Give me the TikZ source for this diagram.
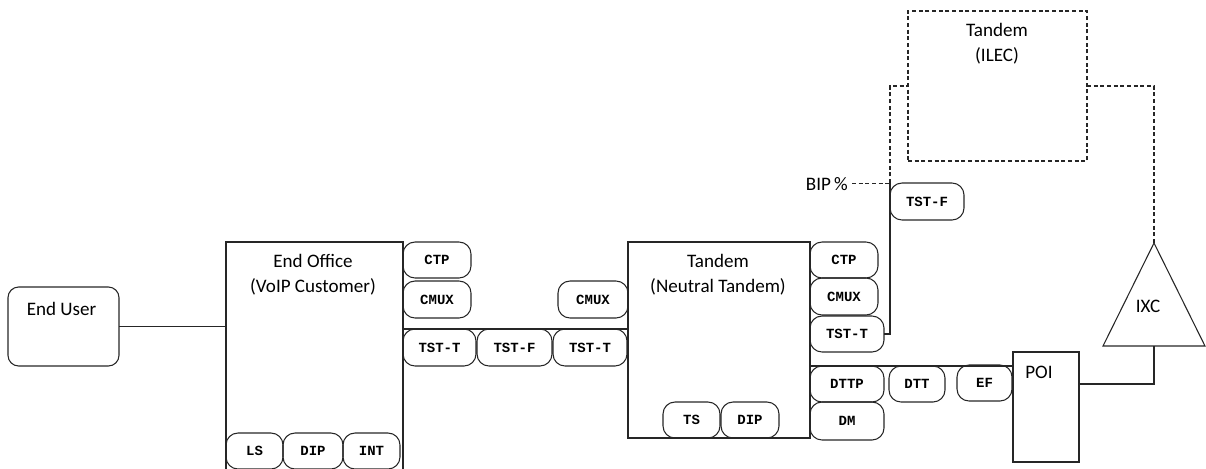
\documentclass[tikz,border=0pt]{standalone}
\usepackage{fontspec}
\setmainfont{Carlito}
\newfontfamily\monofont{Liberation Mono}
\usetikzlibrary{calc}
\tikzset{
  box/.style={draw=black!85, line width=0.8pt, inner sep=0pt, outer sep=0pt},
  pill/.style={box, rounded corners=9pt, font=\monofont\bfseries\fontsize{10.5}{12}\selectfont},
  ttl/.style={align=center, inner sep=0pt, font=\fontsize{14.3}{18.75}\selectfont},
  link/.style={draw=black!85, line width=0.8pt},
  dlink/.style={link, dash pattern=on 3pt off 2pt},
}
\newcommand{\blk}[6]{\node[#6, minimum width={(#4-#2)*0.75pt}, minimum height={(#5-#3)*0.75pt}] (#1) at ({(#2+#4)/2},{(#3+#5)/2}) {};}
\newcommand{\pill}[6]{\node[pill, minimum width={(#4-#2)*0.75pt}, minimum height={(#5-#3)*0.75pt}] (#1) at ({(#2+#4)/2},{(#3+#5)/2}) {#6};}

\begin{document}
\begin{tikzpicture}[x=0.75pt,y=-0.75pt]
    \useasboundingbox (0,0) rectangle (1206,468);
    \clip (0,0) rectangle (1206,468);

    % offices
    \blk{eu}{8}{287}{119}{366}{box, rounded corners=8pt}
    \node[ttl, anchor=base] (eutxt) at (61.5,315) {End User};
    \blk{eo}{226}{242}{403}{470}{box}
    \node[ttl, anchor=base] (eotxt) at (313,292.7) {End Office\\(VoIP Customer)};
    \blk{nt}{628}{242}{810}{438}{box}
    \node[ttl, anchor=base] (nttxt) at (718,292) {Tandem\\(Neutral Tandem)};
    \blk{ilec}{908}{11}{1087}{161}{box, dash pattern=on 3pt off 2pt}
    \node[ttl, anchor=base] (ilectxt) at (997,61.7) {Tandem\\(ILEC)};
    \blk{poi}{1013}{352}{1079}{462}{box}
    \node[ttl, anchor=base] (poitxt) at (1039,378) {POI};

    % IXC
    \coordinate (ixctop) at (1154,243);
    \coordinate (ixcbot) at (1154,346);
    \draw[link] (ixctop) -- (1205,346) -- (1103,346) -- cycle;
    \node[ttl, anchor=base] (ixctxt) at (1148,312) {IXC};

    % end office ports
    \pill{ctpa}{403}{242}{471}{278}{CTP}
    \pill{cmuxa}{403}{281}{471}{318}{CMUX}
    \pill{tsta}{403}{329}{476}{366}{TST-T}
    \pill{tstfa}{477}{329}{552}{366}{TST-F}
    \pill{tstb}{553}{329}{627}{366}{TST-T}
    \pill{cmuxb}{558}{281}{628}{318}{CMUX}
    \pill{ls}{226}{433}{283}{469}{LS}
    \pill{dipa}{283}{433}{343}{469}{DIP}
    \pill{int}{343}{433}{400}{469}{INT}

    % tandem ports
    \pill{ts}{663}{402}{720}{438}{TS}
    \pill{dipb}{721}{402}{779}{438}{DIP}
    \pill{ctpc}{810}{242}{878}{278}{CTP}
    \pill{cmuxc}{810}{278}{878}{315}{CMUX}
    \pill{tstc}{810}{316}{884}{352}{TST-T}
    \pill{dttp}{810}{366}{884}{402}{DTTP}
    \pill{dm}{810}{402}{884}{440}{DM}
    \pill{dtt}{889}{366}{945}{402}{DTT}
    \pill{ef}{957}{365}{1012}{401}{EF}
    \pill{tstfd}{890}{183}{964}{220}{TST-F}

    % BIP
    \node[ttl, anchor=base east] (bip) at (848,190) {BIP\,\%};

    % links
    \draw[link] (eu.east) -- (eu.east -| eo.west);
    \draw[link] (tsta.north west) -- (tstb.north east);
    \draw[link] (dttp.north west) -- (dttp.north west -| poi.west);
    \draw[link] (tstc.east) -| (tstfd.north west);
    \draw[link] ($(poi.north east)+(0,32)$) -| (ixcbot);
    \draw[dlink] (tstfd.north west) |- (ilec.west);
    \draw[dlink] (ilec.east) -| (ixctop);
    \draw[dlink] ([xshift=3pt]bip.east) -- (bip.east -| tstfd.west);
\end{tikzpicture}
\end{document}
